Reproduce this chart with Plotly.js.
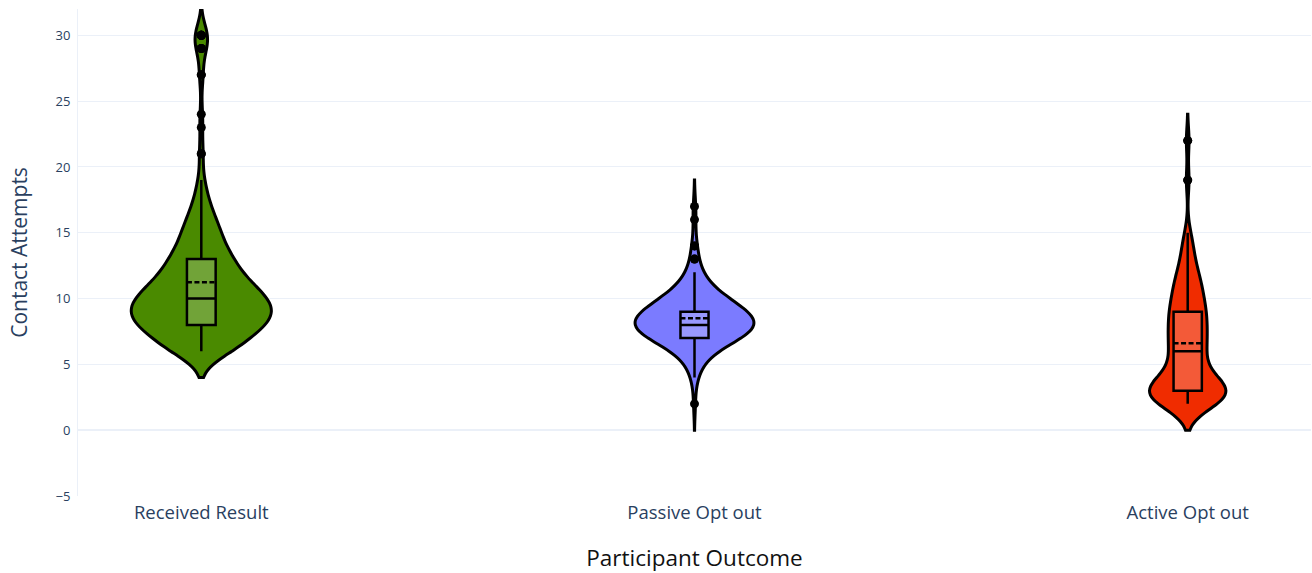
<!DOCTYPE html>
<html>
<head>
<meta charset="utf-8">
<script src="https://cdn.plot.ly/plotly-3.0.1.min.js"></script>
<style>html,body{margin:0;padding:0;background:#fff;}#chart{width:1312px;height:573px;}</style>
</head>
<body>
<div id="chart"></div>
<script>
// Category labels
const categories = ["Received Result", "Passive Opt out", "Active Opt out"];

// Contact attempt values and how many participants had each value
const receivedValues = [6, 7, 8, 9, 10, 11, 12, 13, 14, 15, 16, 17, 18, 19, 21, 23, 24, 27, 29, 30];
const receivedCounts = [20, 24, 36, 40, 36, 28, 20, 18, 12, 11, 8, 5, 3, 2, 2, 1, 1, 2, 3, 6];

const passiveValues = [2, 4, 5, 6, 7, 8, 9, 10, 11, 12, 13, 14, 16, 17];
const passiveCounts = [1, 2, 4, 9, 27, 40, 30, 18, 8, 4, 2, 2, 1, 1];

const activeValues = [2, 3, 4, 5, 6, 7, 8, 9, 10, 11, 12, 13, 14, 15, 19, 22];
const activeCounts = [22, 34, 16, 10, 12, 12, 12, 12, 10, 9, 7, 4, 4, 2, 2, 2];

const yTickVals = [-5, 0, 5, 10, 15, 20, 25, 30];

function expand(values, counts) {
  const out = [];
  values.forEach((v, i) => { for (let k = 0; k < counts[i]; k++) out.push(v); });
  return out;
}

const samples = [
  expand(receivedValues, receivedCounts),
  expand(passiveValues, passiveCounts),
  expand(activeValues, activeCounts)
];

const fills = ["#4A8A00", "#7B7BFF", "#F02C00"];
const widths = [0.284, 0.24, 0.155];
const boxWidths = [0.205, 0.237, 0.37];

const traces = categories.map((cat, i) => ({
  type: "violin",
  name: cat,
  x: samples[i].map(() => cat),
  y: samples[i],
  fillcolor: fills[i],
  line: { color: "#000", width: 3 },
  opacity: 1,
  bandwidth: 1,
  width: widths[i],
  points: "outliers",
  pointpos: 0,
  jitter: 0,
  marker: { color: "#000", size: 9, line: { width: 0 } },
  box: { visible: true, width: boxWidths[i], fillcolor: "rgba(255,255,255,0.22)", line: { color: "#000", width: 2.5 } },
  meanline: { visible: true, color: "#000", width: 2.5 },
  showlegend: false,
  hoverinfo: "skip"
}));

const layout = {
  width: 1312,
  height: 573,
  paper_bgcolor: "#fff",
  plot_bgcolor: "#fff",
  margin: { l: 78, r: 1, t: 9, b: 77 },
  font: { family: "Open Sans, sans-serif", color: "#2a3f5f" },
  violinmode: "overlay",
  showlegend: false,
  xaxis: {
    type: "category",
    categoryorder: "array",
    categoryarray: categories,
    range: [-0.25, 2.25],
    showgrid: false,
    zeroline: false,
    showline: false,
    ticks: "",
    ticklabelstandoff: 3,
    tickfont: { size: 18.5, color: "#2a3f5f" },
    title: { text: "Participant Outcome", font: { size: 22.5, color: "#111" }, standoff: 37 }
  },
  yaxis: {
    range: [-5, 32],
    tickvals: yTickVals,
    gridcolor: "#EBF0F8",
    gridwidth: 1,
    zeroline: true,
    zerolinecolor: "#EBF0F8",
    zerolinewidth: 2,
    showline: true,
    linecolor: "#EBF0F8",
    linewidth: 1,
    ticks: "",
    ticklabelstandoff: 4,
    tickfont: { size: 13, color: "#2a3f5f" },
    title: { text: "Contact Attempts", font: { size: 21, color: "#2a3f5f" }, standoff: 22 }
  }
};

Plotly.newPlot("chart", traces, layout, { displayModeBar: false, staticPlot: true });
</script>
</body>
</html>
